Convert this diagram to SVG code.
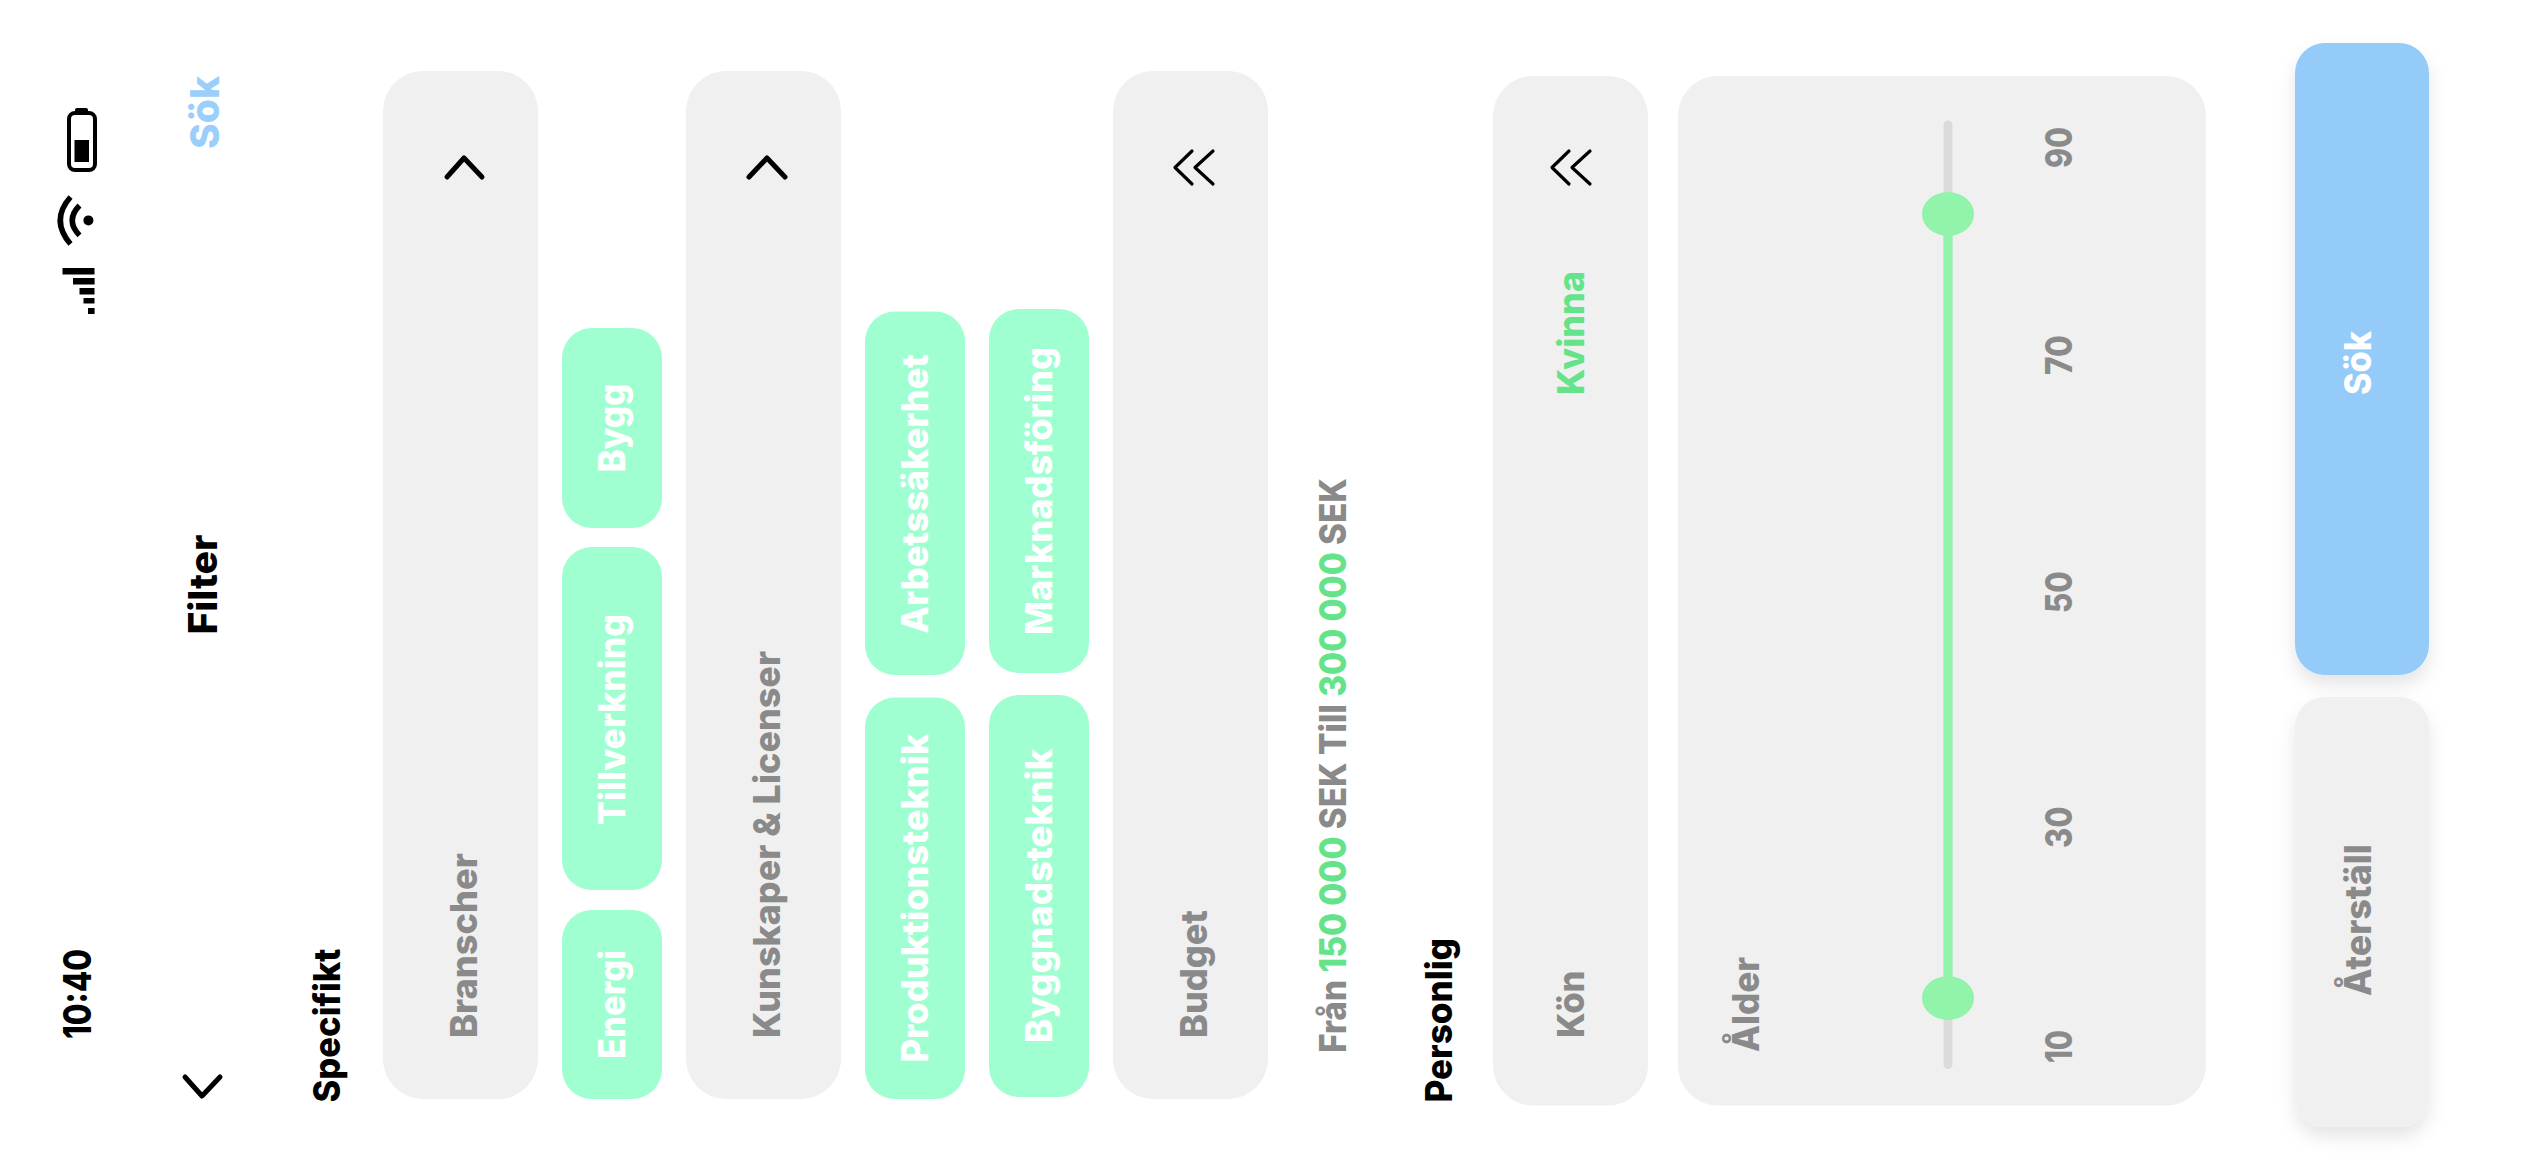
<svg xmlns="http://www.w3.org/2000/svg" width="2533" height="1171" viewBox="0 0 2533 1171">
<defs>
<style>
text{font-family:"Inter","Liberation Sans",sans-serif;font-weight:800;font-size:37px}
.k{fill:#000}.g{fill:#8a8a8a}.w{fill:#fff}.gr{fill:#64e38a}.bl{fill:#9acffb}
.p{fill:#f0f0f0}.c{fill:#a0ffd1}
.ch{fill:none;stroke:#000;stroke-width:5;stroke-linecap:round;stroke-linejoin:round}
.ch2{fill:none;stroke:#000;stroke-width:3.2;stroke-linecap:round;stroke-linejoin:round}
</style>
<filter id="sh" x="-30%" y="-20%" width="160%" height="140%"><feDropShadow dx="0" dy="10" stdDeviation="9" flood-color="#000" flood-opacity="0.1"/></filter>
</defs>
<rect width="2533" height="1171" fill="#fff"/>

<g id="status">
<text class="k" transform="translate(91,1039) rotate(-90)" textLength="90" lengthAdjust="spacingAndGlyphs" style="font-size:38px">10:40</text>
<g id="signal" fill="#000"><rect x="62.5" y="268" width="32" height="6.500"/><rect x="73" y="278" width="21.600" height="6.500"/><rect x="79.500" y="288" width="15" height="6.500"/><rect x="83.500" y="298" width="11" height="5.500"/><rect x="88" y="308" width="6.600" height="6"/></g>
<g id="wifi"><ellipse cx="88.400" cy="220.400" rx="5" ry="5" fill="#000"/><path d="M79.500 205.500Q65 220.400 79.500 235.400" fill="none" stroke="#000" stroke-width="5.500"/><path d="M70.500 197Q50 220.400 70.500 244" fill="none" stroke="#000" stroke-width="5.500"/></g>
<g id="battery"><rect x="69" y="113" width="26" height="57" rx="6" fill="none" stroke="#000" stroke-width="4"/><rect x="75" y="108" width="13" height="6" rx="2" fill="#000"/><rect x="74.500" y="140" width="14.500" height="22" fill="#000"/></g>
</g>

<g id="header">
<path class="ch" d="M185 1077L202 1096L220 1077"/>
<text class="k" transform="translate(216.500,634.600) rotate(-90)" textLength="100" lengthAdjust="spacingAndGlyphs" style="font-size:39px">Filter</text>
<text class="bl" transform="translate(219,149) rotate(-90)" textLength="73" lengthAdjust="spacingAndGlyphs" style="font-size:40px">Sök</text>
</g>

<text class="k" transform="translate(340,1102.500) rotate(-90)" textLength="154" lengthAdjust="spacingAndGlyphs">Specifikt</text>

<g id="branscher">
<rect class="p" x="383" y="71" width="155" height="1028" rx="40"/>
<path class="ch" d="M447 177L464 158L482 177"/>
<text class="g" transform="translate(477,1038) rotate(-90)" textLength="185" lengthAdjust="spacingAndGlyphs">Branscher</text>
</g>
<g id="chip-bygg"><rect class="c" x="562" y="328" width="100" height="200" rx="30"/><text class="w" transform="translate(625,472.600) rotate(-90)" textLength="89" lengthAdjust="spacingAndGlyphs">Bygg</text></g>
<g id="chip-tillverkning"><rect class="c" x="562" y="547" width="100" height="343" rx="30"/><text class="w" transform="translate(625,825) rotate(-90)" textLength="211" lengthAdjust="spacingAndGlyphs">Tillverkning</text></g>
<g id="chip-energi"><rect class="c" x="562" y="910" width="100" height="189" rx="30"/><text class="w" transform="translate(625,1059) rotate(-90)" textLength="109" lengthAdjust="spacingAndGlyphs">Energi</text></g>

<g id="kunskaper">
<rect class="p" x="686" y="71" width="155" height="1028" rx="40"/>
<path class="ch" d="M749 177L767 158L785 177"/>
<text class="g" transform="translate(780,1038) rotate(-90)" textLength="387" lengthAdjust="spacingAndGlyphs">Kunskaper &amp; Licenser</text>
</g>
<g id="chip-arbetssakerhet"><rect class="c" x="865" y="311.500" width="100" height="363.500" rx="30"/><text class="w" transform="translate(928,633.500) rotate(-90)" textLength="279.500" lengthAdjust="spacingAndGlyphs">Arbetssäkerhet</text></g>
<g id="chip-produktionsteknik"><rect class="c" x="865" y="697.500" width="100" height="401.500" rx="30"/><text class="w" transform="translate(928,1062.500) rotate(-90)" textLength="329" lengthAdjust="spacingAndGlyphs">Produktionsteknik</text></g>
<g id="chip-marknadsforing"><rect class="c" x="989" y="309" width="100" height="364" rx="30"/><text class="w" transform="translate(1052,635) rotate(-90)" textLength="288" lengthAdjust="spacingAndGlyphs">Marknadsföring</text></g>
<g id="chip-byggnadsteknik"><rect class="c" x="989" y="695" width="100" height="402" rx="30"/><text class="w" transform="translate(1052,1043) rotate(-90)" textLength="294.500" lengthAdjust="spacingAndGlyphs">Byggnadsteknik</text></g>

<g id="budget">
<rect class="p" x="1113" y="71" width="155" height="1028" rx="40"/>
<path class="ch2" d="M1192 151L1175 167.500L1192 184M1213 151L1195 167.500L1213 184"/>
<text class="g" transform="translate(1207,1038) rotate(-90)" textLength="128" lengthAdjust="spacingAndGlyphs">Budget</text>
</g>
<text class="g" transform="translate(1346,1053) rotate(-90)" textLength="575" lengthAdjust="spacingAndGlyphs">Från <tspan class="gr">150 000</tspan> SEK Till <tspan class="gr">300 000</tspan> SEK</text>

<text class="k" transform="translate(1452,1102.500) rotate(-90)" textLength="164.500" lengthAdjust="spacingAndGlyphs">Personlig</text>

<g id="kon">
<rect class="p" x="1493" y="76" width="155" height="1029.500" rx="40"/>
<path class="ch2" d="M1569 151L1552 167.500L1569 184M1590 151L1572 167.500L1590 184"/>
<text class="g" transform="translate(1583.500,1038) rotate(-90)" textLength="67.500" lengthAdjust="spacingAndGlyphs">Kön</text>
<text class="gr" transform="translate(1583.500,395) rotate(-90)" textLength="124" lengthAdjust="spacingAndGlyphs">Kvinna</text>
</g>

<g id="alder">
<rect class="p" x="1678" y="76" width="528" height="1029.500" rx="40"/>
<text class="g" transform="translate(1759,1052) rotate(-90)" textLength="95" lengthAdjust="spacingAndGlyphs">Ålder</text>
<rect x="1943.500" y="120.500" width="9" height="948.500" rx="4.500" fill="#dbdbdb"/>
<rect x="1943.500" y="214" width="9" height="784" fill="#92f4ab"/>
<ellipse cx="1948" cy="214" rx="26" ry="22" fill="#92f4ab"/>
<ellipse cx="1948" cy="998" rx="26" ry="22" fill="#92f4ab"/>
<text class="g" transform="translate(2072,1063) rotate(-90)" textLength="33" lengthAdjust="spacingAndGlyphs">10</text>
<text class="g" transform="translate(2072,848) rotate(-90)" textLength="41.500" lengthAdjust="spacingAndGlyphs">30</text>
<text class="g" transform="translate(2072,613) rotate(-90)" textLength="42" lengthAdjust="spacingAndGlyphs">50</text>
<text class="g" transform="translate(2072,375) rotate(-90)" textLength="40" lengthAdjust="spacingAndGlyphs">70</text>
<text class="g" transform="translate(2072,168) rotate(-90)" textLength="41" lengthAdjust="spacingAndGlyphs">90</text>
</g>

<g id="btn-sok">
<rect x="2295" y="43" width="134" height="632" rx="30" fill="#95cbf9" filter="url(#sh)"/>
<text class="w" transform="translate(2371,395) rotate(-90)" textLength="64" lengthAdjust="spacingAndGlyphs">Sök</text>
</g>
<g id="btn-aterstall">
<rect x="2295" y="697" width="134" height="430" rx="30" fill="#f0f0f0" filter="url(#sh)"/>
<text class="g" transform="translate(2371,996) rotate(-90)" textLength="152" lengthAdjust="spacingAndGlyphs">Återställ</text>
</g>
</svg>
